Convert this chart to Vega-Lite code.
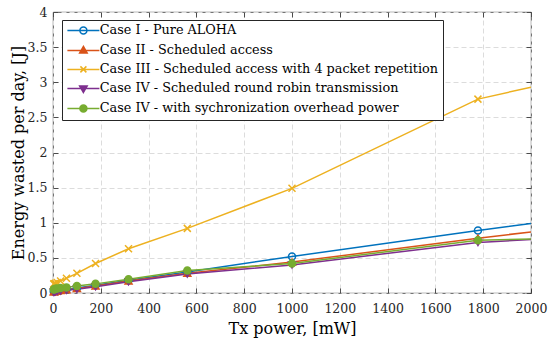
{
  "$schema": "https://vega.github.io/schema/vega-lite/v6.json",
  "width": 478,
  "height": 281,
  "autosize": {"type": "none"},
  "padding": {"left": 53, "top": 12, "right": 19, "bottom": 47},
  "config": {
    "font": "DejaVu Serif",
    "view": {"stroke": "#262626", "strokeWidth": 0.8},
    "axis": {
      "labelFont": "DejaVu Serif",
      "titleFont": "DejaVu Serif",
      "labelFontSize": 12.5,
      "titleFontSize": 16,
      "titleFontWeight": "normal",
      "labelColor": "#262626",
      "titleColor": "#000000",
      "labelFlush": false,
      "domain": false,
      "tickColor": "#262626",
      "tickSize": -5,
      "tickWidth": 0.8,
      "gridColor": "#dcdcdc",
      "gridDash": [5, 3],
      "gridWidth": 1
    },
    "legend": {
      "orient": "none", "legendX": 9, "legendY": 8, "title": null,
      "labelFont": "DejaVu Serif", "labelFontSize": 12.8, "labelLimit": 0, "labelColor": "#000000",
      "strokeColor": "#262626", "fillColor": "white", "padding": 4,
      "symbolSize": 100, "symbolOffset": 11, "labelOffset": 10, "rowPadding": 5,
      "symbolStrokeWidth": 1.5
    }
  },
  "datasets": {
    "d": [
      {"x": 3.16, "y": 0.02, "s": "Case I - Pure ALOHA"},
      {"x": 5.62, "y": 0.025, "s": "Case I - Pure ALOHA"},
      {"x": 10, "y": 0.03, "s": "Case I - Pure ALOHA"},
      {"x": 17.8, "y": 0.03, "s": "Case I - Pure ALOHA"},
      {"x": 31.6, "y": 0.04, "s": "Case I - Pure ALOHA"},
      {"x": 56.2, "y": 0.05, "s": "Case I - Pure ALOHA"},
      {"x": 100, "y": 0.07, "s": "Case I - Pure ALOHA"},
      {"x": 178, "y": 0.11, "s": "Case I - Pure ALOHA"},
      {"x": 316, "y": 0.18, "s": "Case I - Pure ALOHA"},
      {"x": 562, "y": 0.30, "s": "Case I - Pure ALOHA"},
      {"x": 1000, "y": 0.52, "s": "Case I - Pure ALOHA"},
      {"x": 1778, "y": 0.89, "s": "Case I - Pure ALOHA"},
      {"x": 2000, "y": 0.99, "s": "Case I - Pure ALOHA"},

      {"x": 3.16, "y": 0.02, "s": "Case II - Scheduled access"},
      {"x": 5.62, "y": 0.02, "s": "Case II - Scheduled access"},
      {"x": 10, "y": 0.025, "s": "Case II - Scheduled access"},
      {"x": 17.8, "y": 0.03, "s": "Case II - Scheduled access"},
      {"x": 31.6, "y": 0.035, "s": "Case II - Scheduled access"},
      {"x": 56.2, "y": 0.045, "s": "Case II - Scheduled access"},
      {"x": 100, "y": 0.065, "s": "Case II - Scheduled access"},
      {"x": 178, "y": 0.10, "s": "Case II - Scheduled access"},
      {"x": 316, "y": 0.17, "s": "Case II - Scheduled access"},
      {"x": 562, "y": 0.28, "s": "Case II - Scheduled access"},
      {"x": 1000, "y": 0.44, "s": "Case II - Scheduled access"},
      {"x": 1778, "y": 0.78, "s": "Case II - Scheduled access"},
      {"x": 2000, "y": 0.87, "s": "Case II - Scheduled access"},

      {"x": 3.16, "y": 0.13, "s": "Case III - Scheduled access with 4 packet repetition"},
      {"x": 5.62, "y": 0.13, "s": "Case III - Scheduled access with 4 packet repetition"},
      {"x": 10, "y": 0.14, "s": "Case III - Scheduled access with 4 packet repetition"},
      {"x": 17.8, "y": 0.15, "s": "Case III - Scheduled access with 4 packet repetition"},
      {"x": 31.6, "y": 0.17, "s": "Case III - Scheduled access with 4 packet repetition"},
      {"x": 56.2, "y": 0.21, "s": "Case III - Scheduled access with 4 packet repetition"},
      {"x": 100, "y": 0.28, "s": "Case III - Scheduled access with 4 packet repetition"},
      {"x": 178, "y": 0.42, "s": "Case III - Scheduled access with 4 packet repetition"},
      {"x": 316, "y": 0.63, "s": "Case III - Scheduled access with 4 packet repetition"},
      {"x": 562, "y": 0.92, "s": "Case III - Scheduled access with 4 packet repetition"},
      {"x": 1000, "y": 1.49, "s": "Case III - Scheduled access with 4 packet repetition"},
      {"x": 1778, "y": 2.76, "s": "Case III - Scheduled access with 4 packet repetition"},
      {"x": 2000, "y": 2.93, "s": "Case III - Scheduled access with 4 packet repetition"},

      {"x": 3.16, "y": 0.01, "s": "Case IV - Scheduled round robin transmission"},
      {"x": 5.62, "y": 0.015, "s": "Case IV - Scheduled round robin transmission"},
      {"x": 10, "y": 0.02, "s": "Case IV - Scheduled round robin transmission"},
      {"x": 17.8, "y": 0.025, "s": "Case IV - Scheduled round robin transmission"},
      {"x": 31.6, "y": 0.03, "s": "Case IV - Scheduled round robin transmission"},
      {"x": 56.2, "y": 0.04, "s": "Case IV - Scheduled round robin transmission"},
      {"x": 100, "y": 0.055, "s": "Case IV - Scheduled round robin transmission"},
      {"x": 178, "y": 0.09, "s": "Case IV - Scheduled round robin transmission"},
      {"x": 316, "y": 0.16, "s": "Case IV - Scheduled round robin transmission"},
      {"x": 562, "y": 0.27, "s": "Case IV - Scheduled round robin transmission"},
      {"x": 1000, "y": 0.40, "s": "Case IV - Scheduled round robin transmission"},
      {"x": 1778, "y": 0.72, "s": "Case IV - Scheduled round robin transmission"},
      {"x": 2000, "y": 0.76, "s": "Case IV - Scheduled round robin transmission"},

      {"x": 3.16, "y": 0.05, "s": "Case IV - with sychronization overhead power"},
      {"x": 5.62, "y": 0.055, "s": "Case IV - with sychronization overhead power"},
      {"x": 10, "y": 0.06, "s": "Case IV - with sychronization overhead power"},
      {"x": 17.8, "y": 0.065, "s": "Case IV - with sychronization overhead power"},
      {"x": 31.6, "y": 0.07, "s": "Case IV - with sychronization overhead power"},
      {"x": 56.2, "y": 0.08, "s": "Case IV - with sychronization overhead power"},
      {"x": 100, "y": 0.10, "s": "Case IV - with sychronization overhead power"},
      {"x": 178, "y": 0.13, "s": "Case IV - with sychronization overhead power"},
      {"x": 316, "y": 0.195, "s": "Case IV - with sychronization overhead power"},
      {"x": 562, "y": 0.32, "s": "Case IV - with sychronization overhead power"},
      {"x": 1000, "y": 0.42, "s": "Case IV - with sychronization overhead power"},
      {"x": 1778, "y": 0.75, "s": "Case IV - with sychronization overhead power"},
      {"x": 2000, "y": 0.77, "s": "Case IV - with sychronization overhead power"}
    ]
  },
  "data": {"name": "d"},
  "layer": [
    {
      "mark": {"type": "line", "strokeWidth": 1.5, "clip": true},
      "encoding": {
        "x": {
          "field": "x", "type": "quantitative",
          "scale": {"domain": [0, 2000], "nice": false},
          "axis": {"values": [0, 200, 400, 600, 800, 1000, 1200, 1400, 1600, 1800, 2000], "format": "d", "title": "Tx power, [mW]", "grid": true, "labelPadding": 14, "titlePadding": 6}
        },
        "y": {
          "field": "y", "type": "quantitative",
          "scale": {"domain": [0, 4], "nice": false},
          "axis": {"values": [0, 0.5, 1, 1.5, 2, 2.5, 3, 3.5, 4], "format": "~g", "title": "Energy wasted per day, [J]", "grid": true, "labelPadding": 11, "titlePadding": 1}
        },
        "color": {
          "field": "s", "type": "nominal",
          "scale": {
            "domain": ["Case I - Pure ALOHA", "Case II - Scheduled access", "Case III - Scheduled access with 4 packet repetition", "Case IV - Scheduled round robin transmission", "Case IV - with sychronization overhead power"],
            "range": ["#0072BD", "#D95319", "#EDB120", "#7E2F8E", "#77AC30"]
          },
          "legend": {
            "encode": {
              "symbols": {
                "update": {
                  "shape": {"signal": "['M-3.2,0H3.2M-0.7,0A0.7,0.7,0,1,0,0.7,0A0.7,0.7,0,1,0,-0.7,0', 'M-3.2,0H3.2M0,-0.8L0.75,0.5L-0.75,0.5Z', 'M-3.2,0H3.2M-0.6,-0.6L0.6,0.6M-0.6,0.6L0.6,-0.6', 'M-3.2,0H3.2M0,0.8L0.75,-0.5L-0.75,-0.5Z', 'M-3.2,0H3.2M-0.7,0A0.7,0.7,0,1,0,0.7,0A0.7,0.7,0,1,0,-0.7,0'][indexof(['Case I - Pure ALOHA', 'Case II - Scheduled access', 'Case III - Scheduled access with 4 packet repetition', 'Case IV - Scheduled round robin transmission', 'Case IV - with sychronization overhead power'], datum.value)]"},
                  "fill": {"signal": "['transparent', '#D95319', '#EDB120', '#7E2F8E', '#77AC30'][indexof(['Case I - Pure ALOHA', 'Case II - Scheduled access', 'Case III - Scheduled access with 4 packet repetition', 'Case IV - Scheduled round robin transmission', 'Case IV - with sychronization overhead power'], datum.value)]"},
                  "strokeWidth": {"value": 1.5},
                  "opacity": {"value": 1}
                }
              }
            }
          }
        }
      }
    },
    {
      "transform": [{"filter": "datum.x < 2000"}],
      "mark": {"type": "point", "filled": false, "size": 49, "strokeWidth": 1.5, "opacity": 1},
      "encoding": {
        "x": {
          "field": "x", "type": "quantitative",
          "axis": {"orient": "top", "values": [0, 200, 400, 600, 800, 1000, 1200, 1400, 1600, 1800, 2000], "labels": false, "title": null, "grid": false}
        },
        "y": {
          "field": "y", "type": "quantitative",
          "axis": {"orient": "right", "values": [0, 0.5, 1, 1.5, 2, 2.5, 3, 3.5, 4], "labels": false, "title": null, "grid": false}
        },
        "color": {"field": "s", "type": "nominal"},
        "shape": {
          "field": "s", "type": "nominal",
          "scale": {"range": ["circle", "triangle-up", "M-1,-1L1,1M-1,1L1,-1", "triangle-down", "circle"]},
          "legend": null
        },
        "fill": {
          "field": "s", "type": "nominal",
          "scale": {"range": ["transparent", "#D95319", "#EDB120", "#7E2F8E", "#77AC30"]},
          "legend": null
        }
      }
    }
  ],
  "resolve": {"axis": {"x": "independent", "y": "independent"}}
}
